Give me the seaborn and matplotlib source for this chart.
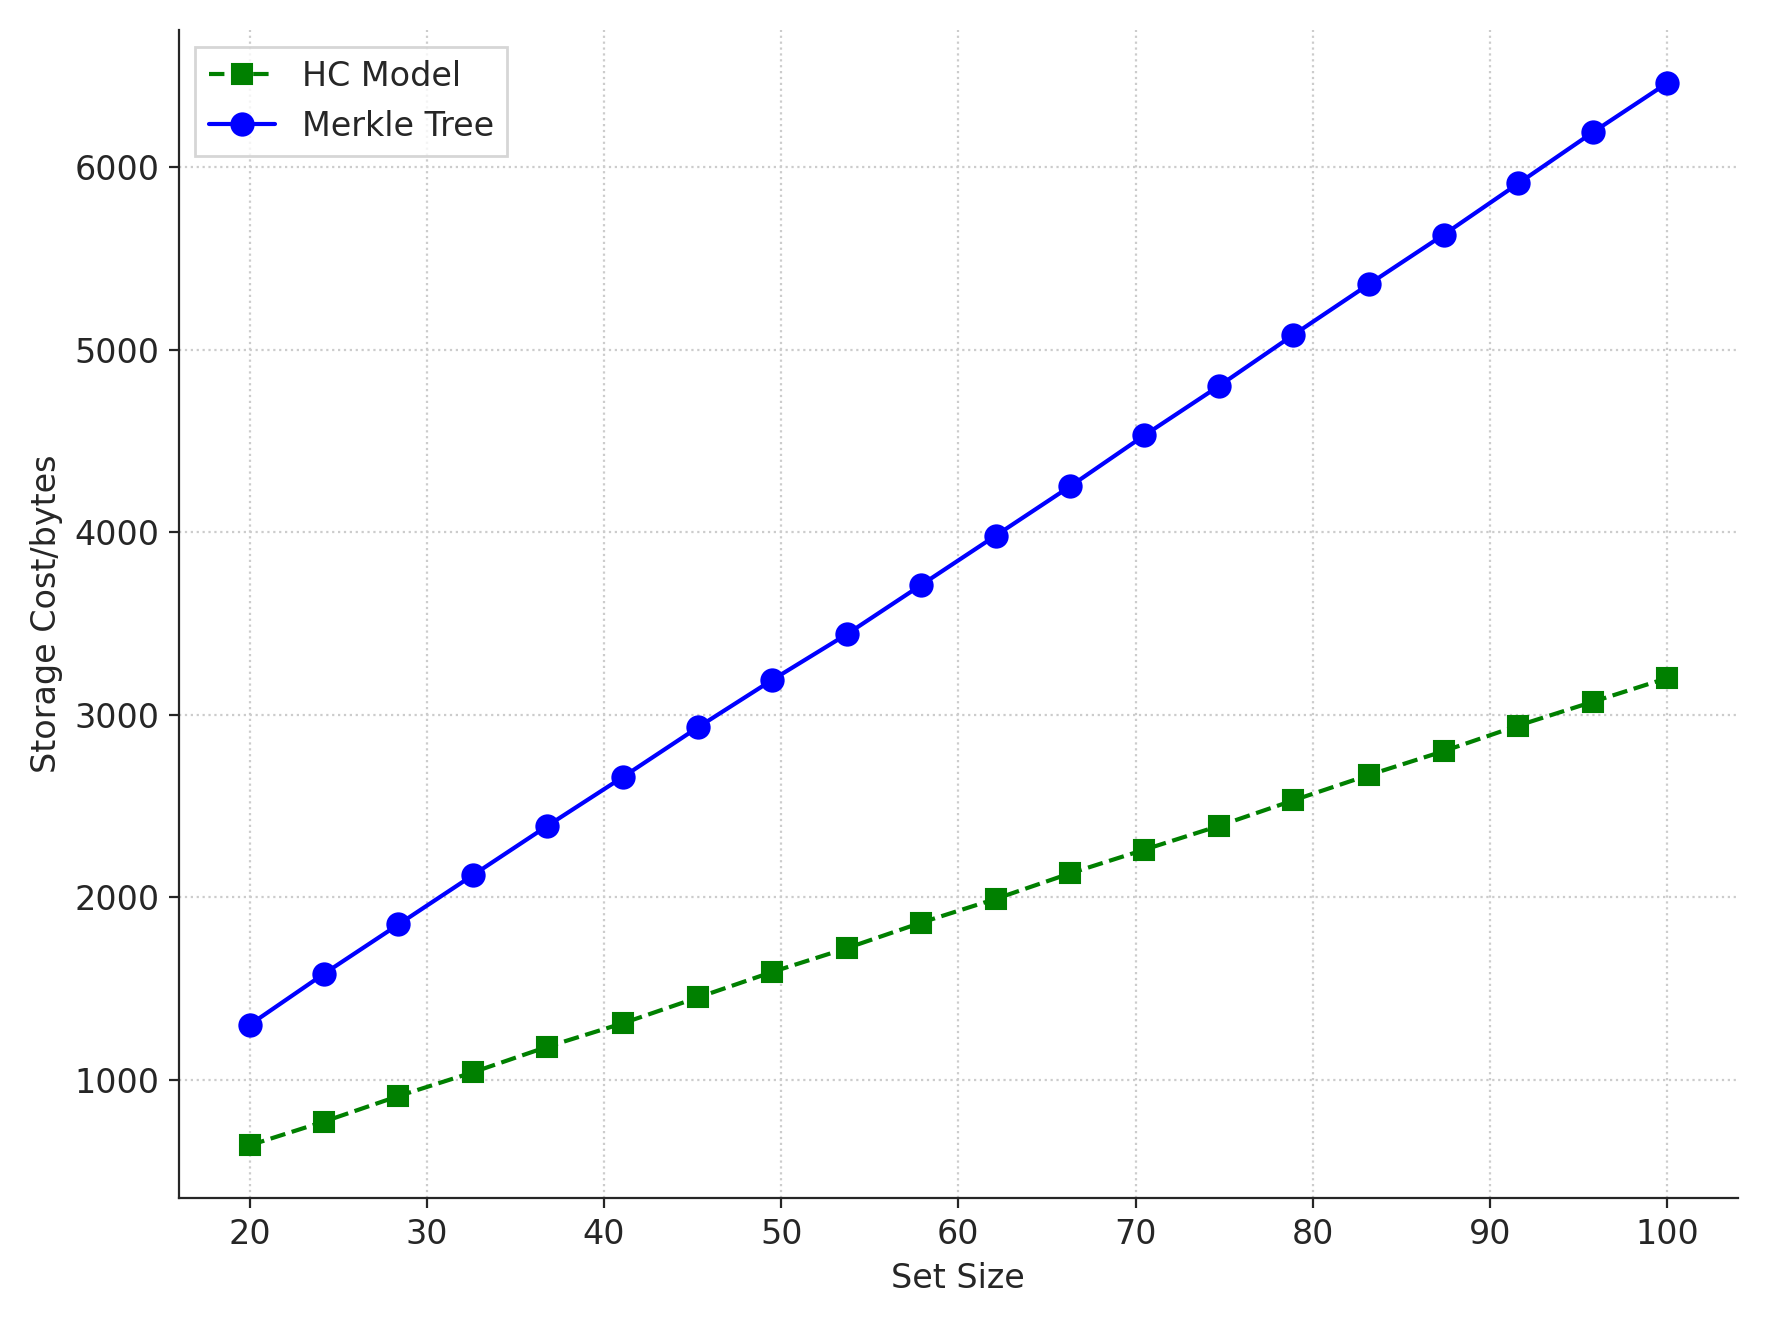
import seaborn as sns
import pandas as pd
import matplotlib.pyplot as plt

set_size = [20.0, 24.2, 28.4, 32.6, 36.8, 41.1, 45.3, 49.5, 53.7, 57.9,
            62.1, 66.3, 70.5, 74.7, 78.9, 83.2, 87.4, 91.6, 95.8, 100.0]
hc_model = [640, 770, 910, 1040, 1180, 1310, 1450, 1590, 1720, 1860,
            1990, 2130, 2260, 2390, 2530, 2670, 2800, 2940, 3070, 3200]
merkle = [1300, 1580, 1850, 2120, 2390, 2660, 2930, 3190, 3440, 3710,
          3980, 4250, 4530, 4800, 5080, 5360, 5630, 5910, 6190, 6460]

sns.set_style('ticks')
fig, ax = plt.subplots(figsize=(8.84, 6.625), dpi=200)

df = pd.DataFrame({'x': set_size, 'hc': hc_model, 'mt': merkle})
sns.lineplot(x='x', y='hc', data=df, ax=ax, color='green', linestyle='--',
             marker='s', markersize=7, markeredgecolor='green', label='HC Model')
sns.lineplot(x='x', y='mt', data=df, ax=ax, color='blue', linestyle='-',
             marker='o', markersize=8, markeredgecolor='blue', label='Merkle Tree')

ax.set_xlabel('Set Size', fontsize=12)
ax.set_ylabel('Storage Cost/bytes', fontsize=12)
ax.set_xticks(range(20, 101, 10))
ax.set_yticks(range(1000, 6001, 1000))
ax.tick_params(labelsize=12)
ax.grid(True, linestyle=':', color='#cccccc')
sns.despine(ax=ax)
ax.legend(loc='upper left', fontsize=12, fancybox=False, edgecolor='#cccccc')
plt.tight_layout()
plt.savefig('out.png', dpi=200)
